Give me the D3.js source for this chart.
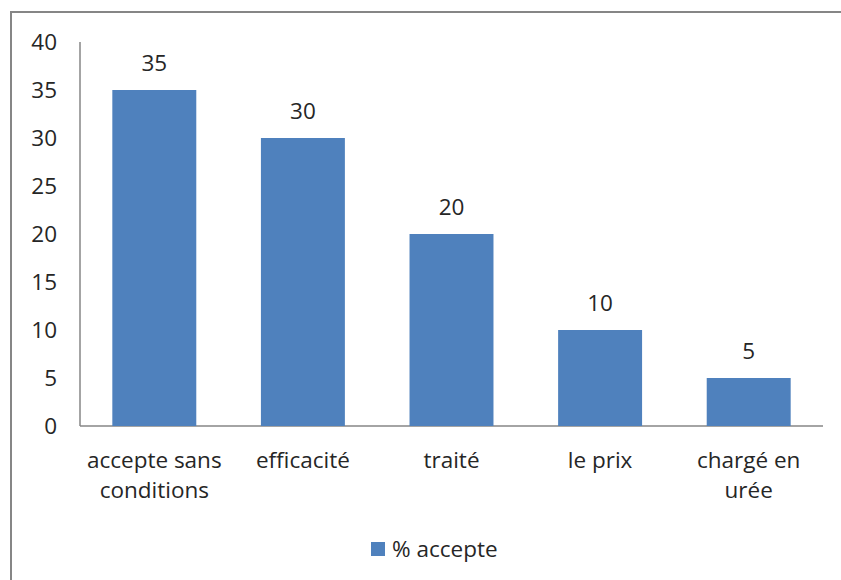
<!DOCTYPE html>
<html>
<head>
<meta charset="utf-8">
<script src="https://cdn.jsdelivr.net/npm/d3@7"></script>
<style>
  html, body { margin: 0; padding: 0; background: #fff; }
  svg { display: block; }
  text { font-family: "Open Sans", "Liberation Sans", sans-serif; fill: #262626; }
</style>
</head>
<body>
<svg id="chart" width="841" height="580"></svg>
<script>
// Categories (multi-line labels) and their percentages
const categories = [
  ["accepte sans", "conditions"],
  ["efficacité"],
  ["traité"],
  ["le prix"],
  ["chargé en", "urée"]
];
const values = [35, 30, 20, 10, 5];
const yTicks = [0, 5, 10, 15, 20, 25, 30, 35, 40];
const seriesName = "% accepte";

const svg = d3.select("#chart");
const barColor = "#4F81BD";
const axisColor = "#868686";
const fontSize = 22.5;

// Chart frame
svg.append("path")
  .attr("d", "M11,580 L11,12 L841,12")
  .attr("fill", "none")
  .attr("stroke", axisColor)
  .attr("stroke-width", 2);

const plot = { left: 80, right: 823, top: 42, bottom: 426 };
const keys = categories.map((c, i) => i);

const x = d3.scaleBand()
  .domain(keys)
  .range([plot.left, plot.right])
  .paddingInner(0.435)
  .paddingOuter(0.2175);

const y = d3.scaleLinear()
  .domain([0, 40])
  .range([plot.bottom, plot.top]);

// Y axis labels
const yAxis = d3.axisLeft(y).tickValues(yTicks).tickSize(0).tickPadding(0);
const yG = svg.append("g").attr("transform", `translate(57,0)`).call(yAxis);
yG.select(".domain").remove();
yG.selectAll("text")
  .style("font-family", "\"Open Sans\", sans-serif")
  .attr("font-size", fontSize)
  .attr("fill", "#262626")
  .attr("dy", "0.35em");

// Axis lines
svg.append("line")
  .attr("x1", plot.left).attr("x2", plot.left)
  .attr("y1", plot.top).attr("y2", plot.bottom)
  .attr("stroke", axisColor).attr("stroke-width", 1.5);
svg.append("line")
  .attr("x1", plot.left).attr("x2", plot.right)
  .attr("y1", plot.bottom).attr("y2", plot.bottom)
  .attr("stroke", axisColor).attr("stroke-width", 1.5);

// Bars
svg.append("g").selectAll("rect")
  .data(values)
  .join("rect")
  .attr("x", (d, i) => x(i))
  .attr("width", x.bandwidth())
  .attr("y", d => y(d))
  .attr("height", d => y(0) - y(d))
  .attr("fill", barColor);

// Value labels
svg.append("g").selectAll("text")
  .data(values)
  .join("text")
  .attr("x", (d, i) => x(i) + x.bandwidth() / 2)
  .attr("y", d => y(d) - 19)
  .attr("text-anchor", "middle")
  .attr("font-size", fontSize)
  .text(d => d);

// Category labels
const catG = svg.append("g").selectAll("text")
  .data(categories)
  .join("text")
  .attr("x", (d, i) => x(i) + x.bandwidth() / 2)
  .attr("y", 468)
  .attr("text-anchor", "middle")
  .attr("font-size", fontSize);
catG.selectAll("tspan")
  .data(d => d)
  .join("tspan")
  .attr("x", function () { return d3.select(this.parentNode).attr("x"); })
  .attr("dy", (d, j) => j === 0 ? 0 : 30)
  .text(d => d);

// Legend
const legend = svg.append("g");
legend.append("rect")
  .attr("x", 371).attr("y", 542)
  .attr("width", 14).attr("height", 14)
  .attr("fill", barColor);
legend.append("text")
  .attr("x", 392).attr("y", 557)
  .attr("font-size", fontSize)
  .text(seriesName);
</script>
</body>
</html>
